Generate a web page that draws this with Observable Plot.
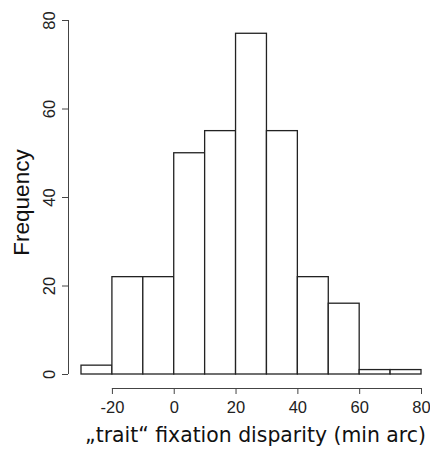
<!DOCTYPE html>
<html>
<head>
<meta charset="utf-8">
<script src="https://cdn.jsdelivr.net/npm/d3@7"></script>
<script src="https://cdn.jsdelivr.net/npm/@observablehq/plot@0.6"></script>
<style>
  html, body { margin: 0; padding: 0; background: #fff; }
</style>
</head>
<body>
<div id="chart"></div>
<script>
const binStarts = [-30, -20, -10, 0, 10, 20, 30, 40, 50, 60, 70];
const binWidth = 10;
const counts = [2, 22, 22, 50, 55, 77, 55, 22, 16, 1, 1];
const xTicks = [-20, 0, 20, 40, 60, 80];
const yTicks = [0, 20, 40, 60, 80];
const xTitle = "\u201Etrait\u201C fixation disparity (min arc)";
const yTitle = "Frequency";

const bins = binStarts.map((s, i) => ({x1: s, x2: s + binWidth, count: counts[i]}));

const tickFont = "'Liberation Sans', Arial, sans-serif";

const chart = Plot.plot({
  width: 430,
  height: 452,
  marginLeft: 81,
  marginRight: 9,
  marginTop: 20,
  marginBottom: 78,
  x: {domain: [-30, 80], axis: null},
  y: {domain: [0, 80], axis: null},
  style: {background: "#fff", fontFamily: tickFont},
  marks: [
    Plot.rectY(bins, {x1: "x1", x2: "x2", y: "count", fill: "white", stroke: "#222", strokeWidth: 1.3}),
    // y axis
    Plot.ruleX([-30], {y1: 0, y2: 80, dx: -13, stroke: "#444"}),
    Plot.axisY({ticks: yTicks, tickSize: 6, tickFormat: () => "", label: null, dx: -13, stroke: "#444"}),
    Plot.text(yTicks, {y: d => d, text: d => String(d), frameAnchor: "left", textAnchor: "middle", dx: -32, rotate: -90, fontSize: 16.5, fill: "#222"}),
    // x axis
    Plot.ruleY([0], {x1: -20, x2: 80, dy: 14, stroke: "#444"}),
    Plot.axisX({ticks: xTicks, tickSize: 6, dy: 14, tickPadding: 7, label: null, tickFormat: d => String(d), fontSize: 16.5, stroke: "#444", fill: "#222"}),
    // titles
    Plot.text([yTitle], {text: d => d, frameAnchor: "left", textAnchor: "middle", dx: -60, dy: 5, rotate: -90, fontSize: 22.5, fill: "#111"}),
    Plot.text([xTitle], {text: d => d, frameAnchor: "bottom", dx: 4, dy: 67, fontSize: 20.4, fill: "#111", fontFamily: "'DejaVu Sans', Verdana, sans-serif"})
  ]
});
document.getElementById("chart").appendChild(chart);
</script>
</body>
</html>
